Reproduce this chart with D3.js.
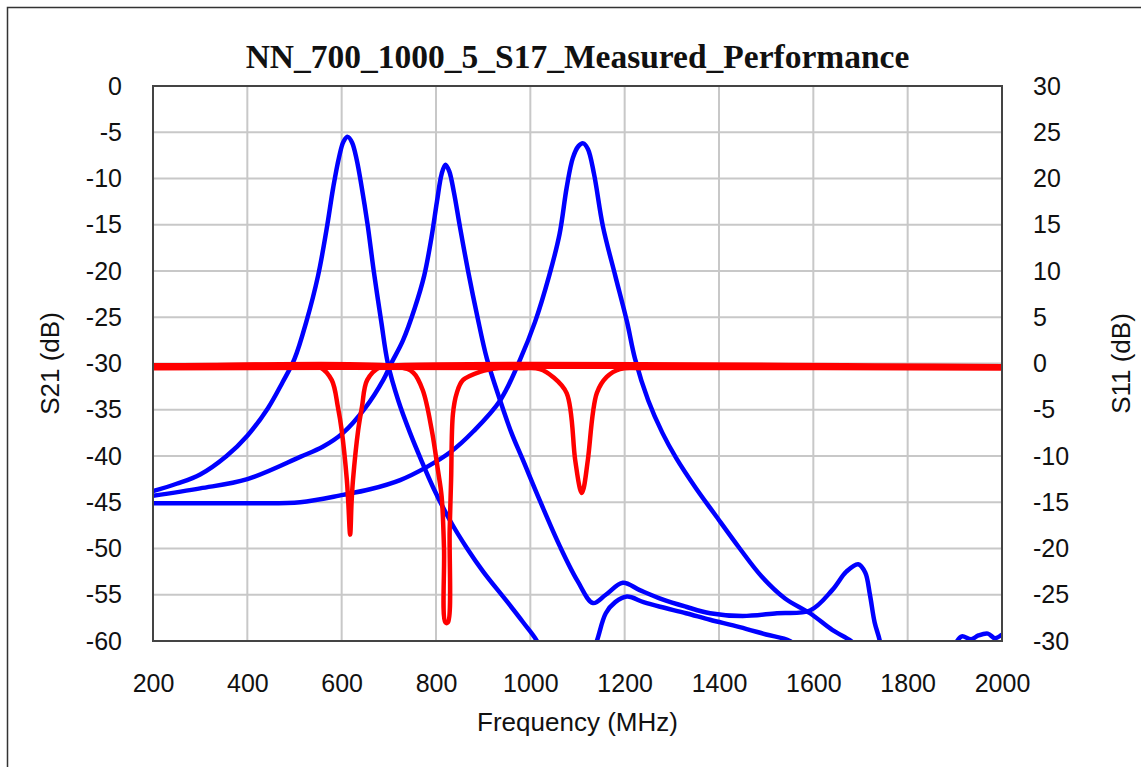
<!DOCTYPE html>
<html>
<head>
<meta charset="utf-8">
<script src="https://cdn.jsdelivr.net/npm/d3@7"></script>
<style>
  body { margin: 0; background: #fff; }
  svg { display: block; }
</style>
</head>
<body>
<div id="chart"></div>
<script>
const chartTitle = "NN_700_1000_5_S17_Measured_Performance";
const freqTicks = [200, 400, 600, 800, 1000, 1200, 1400, 1600, 1800, 2000];
const s21Ticks = [0, -5, -10, -15, -20, -25, -30, -35, -40, -45, -50, -55, -60];
const s11Ticks = [30, 25, 20, 15, 10, 5, 0, -5, -10, -15, -20, -25, -30];

// S21 traces, [MHz, dB] (left axis)
const s21Low = [
  [200, -43.8], [250, -43], [300, -42], [356, -40], [400, -37.8], [444, -34.8],
  [475, -32], [500, -29.5], [525, -25.5], [550, -20.5], [568, -15.5], [582, -11],
  [594, -7.8], [604, -6], [613, -5.5], [622, -6.1], [632, -8], [642, -10.8],
  [655, -15], [668, -20], [684, -25.5], [698, -30], [720, -34], [745, -37.5],
  [770, -40.6], [794, -43.4], [830, -47], [866, -50], [900, -52.5], [950, -55.7],
  [985, -58], [1014, -60], [1030, -62], [1060, -63], [1120, -63], [1141, -60],
  [1160, -57], [1180, -55.8], [1205, -55.2], [1240, -55.8], [1275, -56.3],
  [1330, -57], [1381, -57.7], [1444, -58.5], [1500, -59.3], [1550, -60],
  [1580, -61.5], [1620, -63]
];
const s21Mid = [
  [200, -44.3], [300, -43.5], [400, -42.5], [512, -40.1], [560, -39], [603, -37.5],
  [650, -34.8], [688, -31.8], [705, -30], [730, -27.5], [755, -24], [775, -20.5],
  [790, -16.5], [802, -12.5], [812, -9.5], [820, -8.5], [828, -9.2], [838, -11.5],
  [850, -15], [868, -20], [888, -25], [908, -29.5], [936, -34], [960, -37.5],
  [984, -40.4], [1020, -44.8], [1063, -49.8], [1100, -53.5], [1133, -55.9],
  [1160, -55], [1196, -53.7], [1232, -54.5], [1280, -55.5], [1330, -56.3],
  [1381, -57], [1450, -57.3], [1523, -57], [1593, -56.7], [1640, -54.5],
  [1670, -52.5], [1695, -51.7], [1710, -52.6], [1720, -55], [1730, -58],
  [1741, -60], [1750, -63]
];
const s21High = [
  [200, -45.1], [300, -45.1], [400, -45.1], [512, -45], [603, -44.2], [660, -43.6],
  [724, -42.6], [780, -41.2], [830, -39.6], [880, -37.3], [936, -34], [978, -29.6],
  [1010, -25.5], [1040, -20.5], [1062, -16], [1077, -11], [1090, -7.8],
  [1102, -6.5], [1112, -6.2], [1122, -6.8], [1135, -9.5], [1154, -15.2],
  [1180, -20.5], [1205, -25.5], [1222, -29.5], [1250, -34], [1280, -37.5],
  [1309, -40.2], [1350, -43.4], [1391, -46.3], [1444, -50], [1490, -53],
  [1540, -55.4], [1593, -57], [1640, -58.8], [1680, -60], [1700, -61],
  [1720, -63], [1880, -63], [1905, -60], [1915, -59.5], [1935, -59.8],
  [1950, -59.4], [1970, -59.2], [1985, -59.7], [2000, -59.3]
];

// S11 traces, [MHz, dB] (right axis)
const s11Low = [
  [200, -0.2], [520, -0.2], [554, -0.4], [579, -1.8], [592, -4.7], [600, -7.2],
  [611, -12.6], [614, -15], [618, -18.5], [621, -15], [624, -12.6], [635, -7.2],
  [643, -4.7], [654, -1.8], [681, -0.4], [720, -0.2], [2000, -0.3]
];
const s11Mid = [
  [200, -0.35], [720, -0.35], [752, -1.0], [772, -2.9], [791, -7.2], [804, -11.5],
  [812, -14.4], [817, -20], [820, -28], [825, -28], [829, -18], [832, -12.6],
  [836, -5.4], [844, -3.2], [857, -1.8], [893, -0.9], [936, -0.45], [1000, -0.35],
  [2000, -0.45]
];
const s11High = [
  [200, -0.5], [980, -0.5], [1020, -0.6], [1048, -1.45], [1077, -3.2], [1095, -10.4],
  [1105, -13.5], [1109, -14], [1113, -13.5], [1122, -10.4], [1141, -3.2],
  [1162, -1.45], [1190, -0.6], [1240, -0.5], [2000, -0.55]
];

const width = 1141, height = 767;
const plot = { left: 153, right: 1002, top: 86, bottom: 641 };

const svg = d3.select("#chart").append("svg")
  .attr("width", width)
  .attr("height", height);

svg.append("rect")
  .attr("x", 7.5).attr("y", 7.5)
  .attr("width", width + 10).attr("height", height + 10)
  .attr("fill", "none")
  .attr("stroke", "#333")
  .attr("stroke-width", 1.5);

const x = d3.scaleLinear().domain([200, 2000]).range([plot.left, plot.right]);
const yLeft = d3.scaleLinear().domain([-60, 0]).range([plot.bottom, plot.top]);
const yRight = d3.scaleLinear().domain([-30, 30]).range([plot.bottom, plot.top]);

// grid
const grid = svg.append("g");
grid.selectAll(".vx").data(freqTicks.slice(1, -1)).join("line")
  .attr("x1", d => x(d)).attr("x2", d => x(d))
  .attr("y1", plot.top).attr("y2", plot.bottom)
  .attr("stroke", "#c8c8c8").attr("stroke-width", 2);
grid.selectAll(".hy").data(s21Ticks.slice(1, -1)).join("line")
  .attr("x1", plot.left).attr("x2", plot.right)
  .attr("y1", d => yLeft(d)).attr("y2", d => yLeft(d))
  .attr("stroke", "#c8c8c8").attr("stroke-width", 2);

// axes
const tickFont = "Liberation Sans, Arial, sans-serif";
const styleAxis = g => {
  g.select(".domain").remove();
  g.selectAll("line").remove();
  g.selectAll("text")
    .attr("font-family", tickFont)
    .attr("font-size", "25px")
    .attr("fill", "#111");
};

svg.append("g")
  .attr("transform", `translate(${plot.left - 8},0)`)
  .call(d3.axisLeft(yLeft).tickValues(s21Ticks).tickFormat(d => String(d)).tickSize(0).tickPadding(23))
  .call(styleAxis);

svg.append("g")
  .attr("transform", `translate(${plot.right + 8},0)`)
  .call(d3.axisRight(yRight).tickValues(s11Ticks).tickFormat(d => String(d)).tickSize(0).tickPadding(23))
  .call(styleAxis);

svg.append("g")
  .attr("transform", `translate(0,${plot.bottom + 20})`)
  .call(d3.axisBottom(x).tickValues(freqTicks).tickFormat(d => String(d)).tickSize(0).tickPadding(13))
  .call(styleAxis);

// traces
svg.append("clipPath").attr("id", "plot-clip")
  .append("rect")
  .attr("x", plot.left).attr("y", plot.top)
  .attr("width", plot.right - plot.left)
  .attr("height", plot.bottom - plot.top);

const traces = svg.append("g").attr("clip-path", "url(#plot-clip)");
const smooth = d3.curveCatmullRom.alpha(0.5);
const lineLeft = d3.line().x(d => x(d[0])).y(d => yLeft(d[1])).curve(smooth);
const lineRight = d3.line().x(d => x(d[0])).y(d => yRight(d[1])).curve(smooth);

[s21Low, s21Mid, s21High].forEach(s => {
  traces.append("path")
    .attr("d", lineLeft(s))
    .attr("fill", "none")
    .attr("stroke", "#0000ff")
    .attr("stroke-width", 4.5)
    .attr("stroke-linejoin", "round");
});

[s11Low, s11Mid, s11High].forEach(s => {
  traces.append("path")
    .attr("d", lineRight(s))
    .attr("fill", "none")
    .attr("stroke", "#ff0000")
    .attr("stroke-width", 4.5)
    .attr("stroke-linejoin", "round");
});

// plot frame
svg.append("rect")
  .attr("x", plot.left).attr("y", plot.top)
  .attr("width", plot.right - plot.left)
  .attr("height", plot.bottom - plot.top)
  .attr("fill", "none")
  .attr("stroke", "#444")
  .attr("stroke-width", 2);

// titles
svg.append("text")
  .attr("x", (plot.left + plot.right) / 2)
  .attr("y", 68)
  .attr("text-anchor", "middle")
  .attr("font-family", "Liberation Serif, Times New Roman, serif")
  .attr("font-weight", "bold")
  .attr("font-size", "33.5px")
  .attr("fill", "#111")
  .text(chartTitle);

svg.append("text")
  .attr("x", (plot.left + plot.right) / 2)
  .attr("y", 731)
  .attr("text-anchor", "middle")
  .attr("font-family", tickFont)
  .attr("font-size", "26px")
  .attr("fill", "#111")
  .text("Frequency (MHz)");

svg.append("text")
  .attr("transform", `translate(59,${(plot.top + plot.bottom) / 2}) rotate(-90)`)
  .attr("text-anchor", "middle")
  .attr("font-family", tickFont)
  .attr("font-size", "26px")
  .attr("fill", "#111")
  .text("S21 (dB)");

svg.append("text")
  .attr("transform", `translate(1130,${(plot.top + plot.bottom) / 2}) rotate(-90)`)
  .attr("text-anchor", "middle")
  .attr("font-family", tickFont)
  .attr("font-size", "26px")
  .attr("fill", "#111")
  .text("S11 (dB)");
</script>
</body>
</html>
